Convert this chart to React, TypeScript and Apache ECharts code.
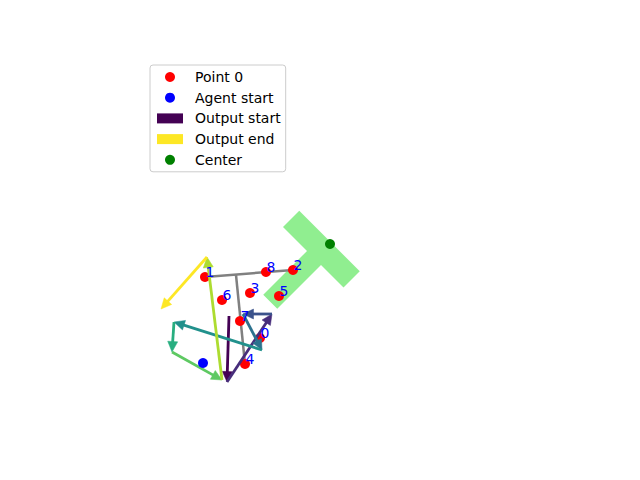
import React, { useEffect, useRef } from "react";
import * as echarts from "echarts";

// Target points (numbered 0..8), in plot units (y grows downward)
const POINT_X = [260, 205, 293, 250, 245, 279, 222, 240, 266];
const POINT_Y = [338, 277, 270, 293, 364, 296, 300, 321, 272];
const POINT_LABELS = ["0", "1", "2", "3", "4", "5", "6", "7", "8"];

const AGENT_START_X = [203];
const AGENT_START_Y = [363];

const CENTER_X = [330];
const CENTER_Y = [244];

// Output path (consecutive arrows)
const PATH_X = [229, 227, 272, 243, 262, 174, 172, 222, 207, 161];
const PATH_Y = [316, 382, 314, 314, 350, 322, 352, 380, 257, 309];

// Target T-shaped region outline
const SHAPE_X = [299.25, 359.75, 343.5, 321, 277.25, 263.25, 307, 283];
const SHAPE_Y = [210.75, 271.25, 287.5, 265, 308.75, 294.75, 251, 227];

// Grey pose segments (x1, y1, x2, y2)
const POSE_X1 = [205, 236];
const POSE_Y1 = [277, 275];
const POSE_X2 = [293, 245];
const POSE_Y2 = [270, 364];

const VIRIDIS = ["#440154", "#472d7b", "#3b528b", "#2c728e", "#21918c", "#28ae80", "#5ec962", "#addc30", "#fde725"];

const FONT = "DejaVu Sans";

function arrowRender(colorOf: (i: number) => string) {
  return (params: any, api: any) => {
    const p1 = api.coord([api.value(0), api.value(1)]);
    const p2 = api.coord([api.value(2), api.value(3)]);
    const idx = api.value(4);
    const color = colorOf(idx);
    const dx = p2[0] - p1[0];
    const dy = p2[1] - p1[1];
    const len = Math.hypot(dx, dy) || 1;
    const ux = dx / len;
    const uy = dy / len;
    const hl = 10.5;
    const hw = 5;
    const bx = p2[0] - ux * hl;
    const by = p2[1] - uy * hl;
    return {
      type: "group",
      children: [
        {
          type: "line",
          shape: { x1: p1[0], y1: p1[1], x2: bx + ux, y2: by + uy },
          style: { stroke: color, lineWidth: 2.8, fill: null },
        },
        {
          type: "polygon",
          shape: {
            points: [
              [p2[0], p2[1]],
              [bx - uy * hw, by + ux * hw],
              [bx + uy * hw, by - ux * hw],
            ],
          },
          style: { fill: color, stroke: color, lineWidth: 0.5 },
        },
      ],
    };
  };
}

export default function App() {
  const ref = useRef<HTMLDivElement>(null);

  useEffect(() => {
    if (!ref.current) return;
    const chart = echarts.init(ref.current, undefined, { renderer: "svg" });

    const arrows = PATH_X.slice(0, -1).map((x, i) => [x, PATH_Y[i], PATH_X[i + 1], PATH_Y[i + 1], i]);
    const nA = arrows.length;

    const option: any = {
      animation: false,
      backgroundColor: "#ffffff",
      grid: { left: 0, right: 0, top: 0, bottom: 0 },
      xAxis: { type: "value", min: 0, max: 640, show: false },
      yAxis: { type: "value", min: 0, max: 480, inverse: true, show: false },
      legend: {
        orient: "vertical",
        left: 150,
        top: 65,
        padding: [5, 5, 5, 7],
        itemWidth: 26,
        itemHeight: 10,
        itemGap: 6.7,
        selectedMode: false,
        backgroundColor: "rgba(255,255,255,0.8)",
        borderColor: "#cccccc",
        borderWidth: 1,
        borderRadius: 3,
        textStyle: { fontFamily: FONT, fontSize: 14, color: "#000000", lineHeight: 14, padding: [0, 0, 0, 7] },
        data: [
          { name: "Point 0", icon: "circle", itemStyle: { color: "#ff0000", opacity: 1 } },
          { name: "Agent start", icon: "circle", itemStyle: { color: "#0000ff", opacity: 1 } },
          { name: "Output start", icon: "rect", itemStyle: { color: VIRIDIS[0] } },
          { name: "Output end", icon: "rect", itemStyle: { color: VIRIDIS[VIRIDIS.length - 1] } },
          { name: "Center", icon: "circle", itemStyle: { color: "#008000", opacity: 1 } },
        ],
      },
      series: [
        {
          name: "Target",
          type: "custom",
          z: 1,
          silent: true,
          data: [0],
          renderItem: (params: any, api: any) => {
            const pts = SHAPE_X.map((x, i) => api.coord([x, SHAPE_Y[i]]));
            return { type: "polygon", shape: { points: pts }, style: { fill: "#90ee90" } };
          },
        },
        {
          name: "Pose",
          type: "custom",
          z: 2,
          silent: true,
          data: POSE_X1.map((x, i) => [x, POSE_Y1[i], POSE_X2[i], POSE_Y2[i]]),
          renderItem: (params: any, api: any) => {
            const p1 = api.coord([api.value(0), api.value(1)]);
            const p2 = api.coord([api.value(2), api.value(3)]);
            return {
              type: "line",
              shape: { x1: p1[0], y1: p1[1], x2: p2[0], y2: p2[1] },
              style: { stroke: "#808080", lineWidth: 2.5 },
            };
          },
        },
        {
          name: "Point 0",
          type: "scatter",
          z: 3,
          symbol: "circle",
          symbolSize: 10,
          itemStyle: { color: "#ff0000", opacity: 1 },
          data: POINT_X.map((x, i) => [x, POINT_Y[i]]),
        },
        {
          name: "Output start",
          type: "custom",
          z: 4,
          itemStyle: { color: VIRIDIS[0] },
          data: arrows.slice(0, 1),
          renderItem: arrowRender((i) => VIRIDIS[i]),
        },
        {
          name: "Output path",
          type: "custom",
          z: 4,
          data: arrows.slice(1, nA - 1),
          renderItem: arrowRender((i) => VIRIDIS[i]),
        },
        {
          name: "Output end",
          type: "custom",
          z: 4,
          itemStyle: { color: VIRIDIS[VIRIDIS.length - 1] },
          data: arrows.slice(nA - 1),
          renderItem: arrowRender((i) => VIRIDIS[i]),
        },
        {
          name: "Agent start",
          type: "scatter",
          z: 5,
          symbolSize: 10,
          itemStyle: { color: "#0000ff", opacity: 1 },
          data: AGENT_START_X.map((x, i) => [x, AGENT_START_Y[i]]),
        },
        {
          name: "Center",
          type: "scatter",
          z: 5,
          symbolSize: 10,
          itemStyle: { color: "#008000", opacity: 1 },
          data: CENTER_X.map((x, i) => [x, CENTER_Y[i]]),
        },
        {
          name: "Point labels",
          type: "custom",
          z: 6,
          silent: true,
          data: POINT_X.map((x, i) => [x, POINT_Y[i], i]),
          renderItem: (params: any, api: any) => {
            const p = api.coord([api.value(0), api.value(1)]);
            return {
              type: "text",
              x: p[0] + 0.5,
              y: p[1] - 5,
              style: {
                text: POINT_LABELS[api.value(2)],
                fill: "#0000ff",
                fontFamily: FONT,
                fontSize: 14,
                align: "left",
                verticalAlign: "middle",
              },
            };
          },
        },
      ],
    };

    chart.setOption(option);
    return () => chart.dispose();
  }, []);

  return <div ref={ref} style={{ position: "absolute", left: 0, top: 0, width: 640, height: 480 }} />;
}
